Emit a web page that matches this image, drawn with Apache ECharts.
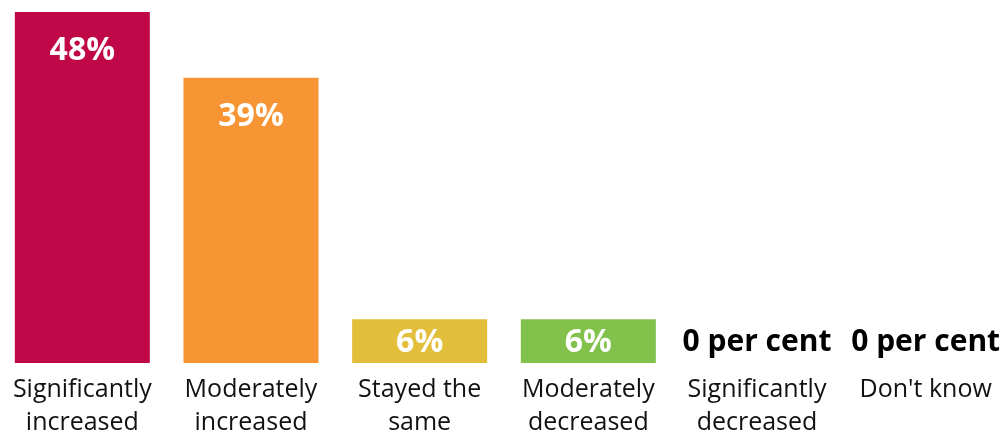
<!DOCTYPE html>
<html>
<head>
<meta charset="utf-8">
<script src="https://cdn.jsdelivr.net/npm/echarts@6/dist/echarts.min.js"></script>
<style>
  html, body { margin: 0; padding: 0; background: #fff; }
  #chart { width: 1008px; height: 435px; }
</style>
</head>
<body>
<div id="chart"></div>
<script>
// categories and values (percent)
var categories = ['Significantly\nincreased', 'Moderately\nincreased', 'Stayed the\nsame',
    'Moderately\ndecreased', 'Significantly\ndecreased', "Don't know"];
var values = [48, 39, 6, 6, 0, 0];
var barColors = ['#C00848', '#F79433', '#E2BE3A', '#82C24C', '#999999', '#999999'];

var fontFamily = '"Open Sans", "Noto Sans", sans-serif';

// build bar items, label placement depends on bar height
var seriesData = values.map(function (v, i) {
    var label;
    if (v === 0) {
        label = {
            show: true, position: 'top', distance: 6,
            formatter: '0 per cent', color: '#000',
            fontSize: 30, fontWeight: 'bold', fontFamily: fontFamily
        };
    } else if (v > 20) {
        label = {
            show: true, position: 'insideTop', distance: 23,
            formatter: v + '%', color: '#fff',
            fontSize: 32, fontWeight: 'bold', fontFamily: fontFamily
        };
    } else {
        label = {
            show: true, position: 'inside', offset: [0, 2],
            formatter: v + '%', color: '#fff',
            fontSize: 32, fontWeight: 'bold', fontFamily: fontFamily
        };
    }
    return { value: v, itemStyle: { color: barColors[i] }, label: label };
});

var option = {
    animation: false,
    backgroundColor: '#fff',
    grid: { left: -2, width: 1012, top: 12, bottom: 72, outerBoundsMode: 'none', containLabel: false },
    xAxis: {
        type: 'category',
        data: categories,
        axisLine: { show: false },
        axisTick: { show: false },
        axisLabel: {
            margin: 10,
            color: '#111',
            fontSize: 25,
            lineHeight: 33,
            fontFamily: fontFamily,
            interval: 0
        }
    },
    yAxis: {
        type: 'value',
        min: 0,
        max: 48,
        show: false
    },
    series: [{
        type: 'bar',
        barWidth: 135,
        data: seriesData
    }]
};

var chart = echarts.init(document.getElementById('chart'));
chart.setOption(option);
</script>
</body>
</html>
